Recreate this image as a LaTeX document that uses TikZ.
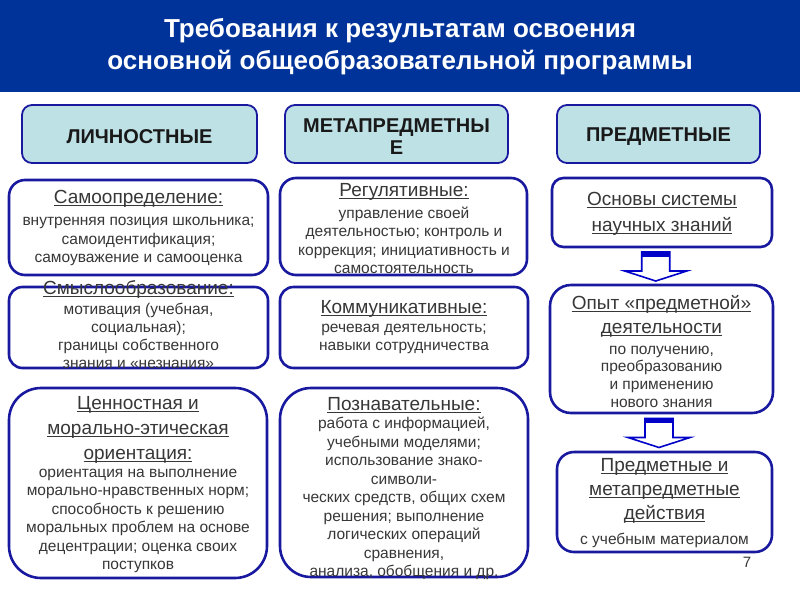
\documentclass[tikz,border=0pt]{standalone}
\usepackage{fontspec}
\setmainfont{Liberation Sans}
\usetikzlibrary{calc}
\definecolor{banner}{RGB}{0,51,153}
\definecolor{hdfill}{RGB}{190,225,230}
\definecolor{bord}{RGB}{25,25,160}
\definecolor{txtgray}{RGB}{55,55,55}
\definecolor{arrblue}{RGB}{0,0,200}
\newcommand\ulh[1]{\setbox0\hbox{#1}\rlap{\color{txtgray}\rule[-2.8pt]{\wd0}{1.1pt}}\box0}
\begin{document}
\begin{tikzpicture}[x=1pt,y=-1pt,
  hbox/.style={draw=bord,line width=1.8pt,fill=hdfill,inner sep=0pt},
  cbox/.style={draw=bord,line width=2.6pt,fill=white,inner sep=0pt},
  htxt/.style={font=\fontsize{20}{22}\selectfont\bfseries,text=black!90,align=center,inner sep=0pt},
  hd/.style={font=\fontsize{19}{25}\selectfont,text=txtgray,align=center,inner sep=0pt},
  bd/.style={font=\fontsize{15.5}{18.5}\selectfont,text=txtgray,align=center,inner sep=0pt},
  barrow/.style={draw=arrblue,line width=1.6pt,fill=white,line join=miter}]
\useasboundingbox (0,0) rectangle (800,600);
% banner
\fill[banner] (0,0) rectangle (800,92);
\node[font=\fontsize{26}{32}\selectfont\bfseries,text=white,align=center,inner sep=0pt] (title) at (400,47)
  {Требования к результатам освоения\\основной общеобразовательной программы};
% headers
\node[hbox,minimum width=235pt,minimum height=58pt,rounded corners=10pt] (lich) at (139.5,134) {};
\node[hbox,minimum width=223pt,minimum height=58pt,rounded corners=10pt] (meta) at (396.5,134) {};
\node[hbox,minimum width=203pt,minimum height=58pt,rounded corners=10pt] (predm) at (658.5,134) {};
\node[htxt] (lichT) at ($(lich)+(0,3)$) {ЛИЧНОСТНЫЕ};
\node[htxt] (metaT) at ($(meta)+(0,3)$) {МЕТАПРЕДМЕТНЫ\\Е};
\node[htxt] (predmT) at ($(predm)+(0,3)$) {ПРЕДМЕТНЫЕ};
% content boxes
\node[cbox,minimum width=259pt,minimum height=95pt,rounded corners=16pt] (samo) at (138.5,227.5) {};
\node[cbox,minimum width=259pt,minimum height=81pt,rounded corners=13.5pt] (smysl) at (138.5,327.5) {};
\node[cbox,minimum width=258pt,minimum height=190pt,rounded corners=32pt] (cenn) at (138,483) {};
\node[cbox,minimum width=247pt,minimum height=97pt,rounded corners=16pt] (reg) at (403.5,226.5) {};
\node[cbox,minimum width=248pt,minimum height=81pt,rounded corners=13.5pt] (komm) at (404,327.5) {};
\node[cbox,minimum width=248pt,minimum height=189pt,rounded corners=31pt] (pozn) at (404,482.5) {};
\node[cbox,minimum width=220pt,minimum height=69pt,rounded corners=11.5pt] (osn) at (662,212.5) {};
\node[cbox,minimum width=223pt,minimum height=128pt,rounded corners=21pt] (opyt) at (661.5,349) {};
\node[cbox,minimum width=215pt,minimum height=100pt,rounded corners=17pt] (pred) at (664.5,502) {};
% texts left column
\node[hd] (samoH) at (138.5,199) {\ulh{Самоопределение:}};
\node[bd] (samoB) at (138.5,241.5) {внутренняя позиция школьника;\\самоидентификация;\\самоуважение и самооценка};
\node[hd] (smyslH) at (138.5,289) {\ulh{Смыслообразование:}};
\node[bd,font=\fontsize{15.5}{18}\selectfont] (smyslB) at (138.5,336) {мотивация (учебная,\\социальная);\\границы собственного\\знания и «незнания»};
\node[hd] (cennH) at (138,430) {\ulh{Ценностная и}\\\ulh{морально-этическая}\\\ulh{ориентация:}};
\node[bd] (cennB) at (138,521) {ориентация на выполнение\\морально-нравственных норм;\\способность к решению\\моральных проблем на основе\\децентрации; оценка своих\\поступков};
% texts middle column
\node[hd] (regH) at (404,192) {\ulh{Регулятивные:}};
\node[bd] (regB) at (404,240.5) {управление своей\\деятельностью; контроль и\\коррекция; инициативность и\\самостоятельность};
\node[hd] (kommH) at (404,309) {\ulh{Коммуникативные:}};
\node[bd] (kommB) at (404,339) {речевая деятельность;\\навыки сотрудничества};
\node[hd] (poznH) at (404,405) {\ulh{Познавательные:}};
\node[bd] (poznB) at (404,498.5) {работа с информацией,\\учебными моделями;\\использование знако-\\символи-\\ческих средств, общих схем\\решения; выполнение\\логических операций\\сравнения,\\анализа, обобщения и др.};
% texts right column
\node[hd,font=\fontsize{19}{26}\selectfont] (osnH) at (662,214) {\ulh{Основы системы}\\\ulh{научных знаний}};
\node[hd,font=\fontsize{19}{24}\selectfont] (opytH) at (661.5,316.5) {\ulh{Опыт «предметной»}\\\ulh{деятельности}};
\node[bd,font=\fontsize{15.5}{17.7}\selectfont] (opytB) at (661.5,376.5) {по получению,\\преобразованию\\и применению\\нового знания};
\node[hd,font=\fontsize{19}{24}\selectfont] (predH) at (664.5,491) {\ulh{Предметные и}\\\ulh{метапредметные}\\\ulh{действия}};
\node[bd] (predB) at (664.5,540) {с учебным материалом};
% block arrows
\coordinate (a1) at ($(osn.south)!0.5!(opyt.north)+(-6,0)$);
\coordinate (a2) at ($(opyt.south)!0.5!(pred.north)+(-4,0)$);
\foreach \c in {a1,a2}{
  \draw[barrow] ($(\c)+(-14,-14)$) -- ($(\c)+(14,-14)$) -- ($(\c)+(14,5)$) -- ($(\c)+(31,5)$)
    -- ($(\c)+(0,15)$) -- ($(\c)+(-31,5)$) -- ($(\c)+(-14,5)$) -- cycle;
  \fill[arrblue] ($(\c)+(-14,-14)$) rectangle ($(\c)+(14,-9.5)$);
}
% page number
\node[font=\fontsize{15}{18}\selectfont,text=txtgray,inner sep=0pt] (pnum) at (747,562) {7};
\end{tikzpicture}
\end{document}
